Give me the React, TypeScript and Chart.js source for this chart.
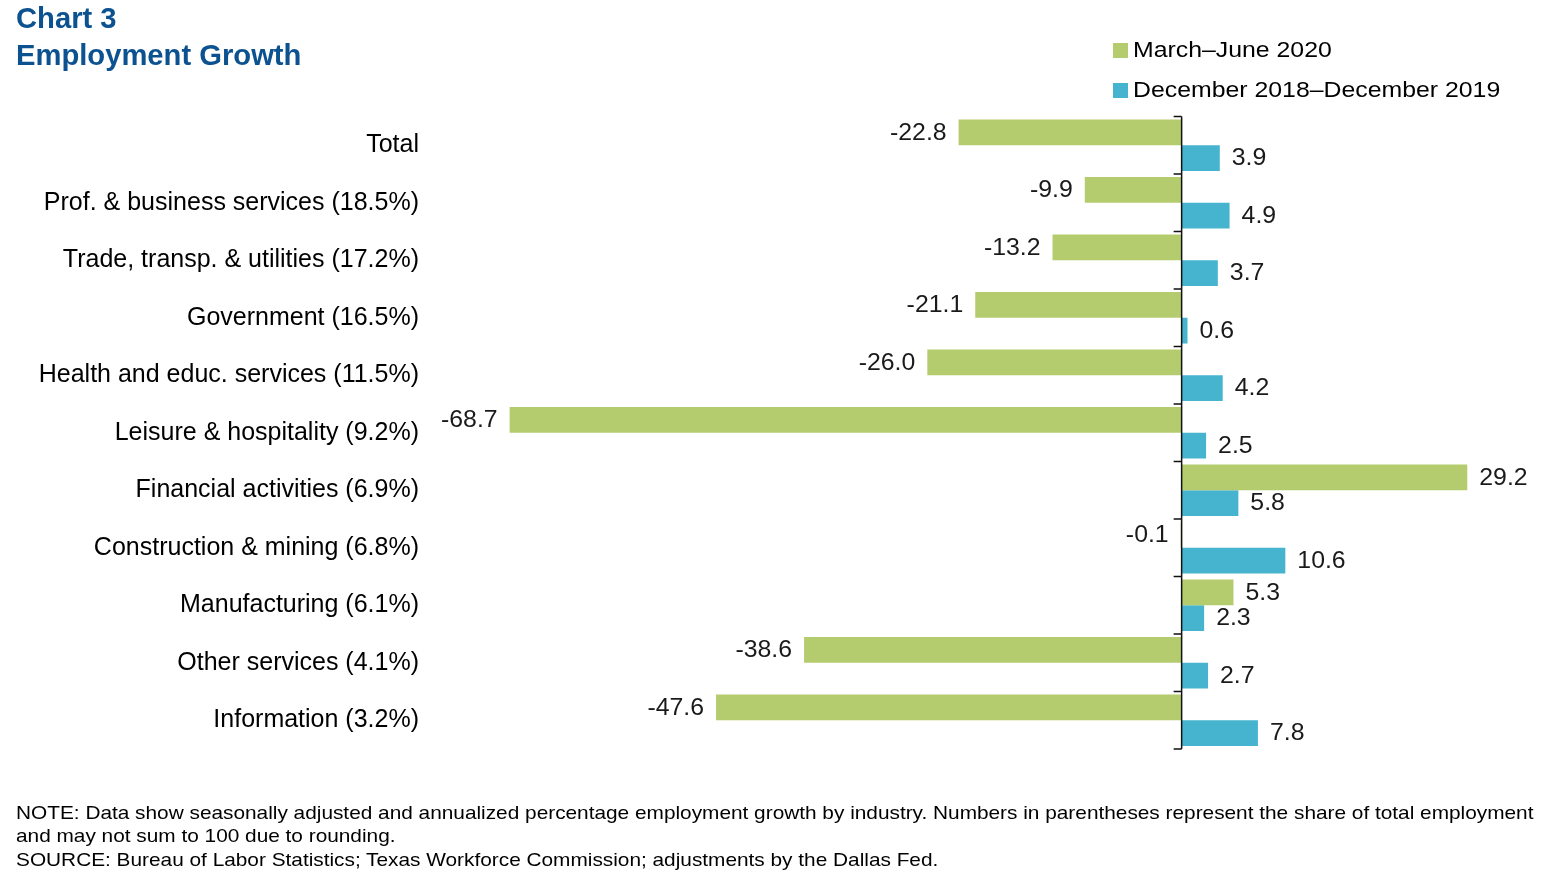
import React, { useEffect, useRef } from 'react';
import { Chart, registerables } from 'chart.js';

Chart.register(...registerables);

const categories = [
  'Total',
  'Prof. & business services (18.5%)',
  'Trade, transp. & utilities (17.2%)',
  'Government (16.5%)',
  'Health and educ. services (11.5%)',
  'Leisure & hospitality (9.2%)',
  'Financial activities (6.9%)',
  'Construction & mining (6.8%)',
  'Manufacturing (6.1%)',
  'Other services (4.1%)',
  'Information (3.2%)',
];
const marchJune2020 = [-22.8, -9.9, -13.2, -21.1, -26.0, -68.7, 29.2, -0.1, 5.3, -38.6, -47.6];
const dec2018Dec2019 = [3.9, 4.9, 3.7, 0.6, 4.2, 2.5, 5.8, 10.6, 2.3, 2.7, 7.8];
const seriesNames = ['March\u2013June 2020', 'December 2018\u2013December 2019'];
const seriesColors = ['#B5CC6E', '#46B4CF'];

const FONT = 'Arial, "Liberation Sans", sans-serif';

export default function App() {
  const ref = useRef<HTMLCanvasElement>(null);

  useEffect(() => {
    if (!ref.current) return;
    const zeroAxisAndLabels = {
      id: 'zeroAxisAndLabels',
      afterDatasetsDraw(chart: any) {
        const { ctx, chartArea, scales } = chart;
        const x = scales.x;
        const y = scales.y;
        const x0 = x.getPixelForValue(0);
        ctx.save();
        ctx.strokeStyle = '#111';
        ctx.lineWidth = 1.5;
        ctx.beginPath();
        ctx.moveTo(x0, chartArea.top);
        ctx.lineTo(x0, chartArea.bottom);
        for (let i = 0; i <= categories.length; i++) {
          const yy = y.getPixelForValue(i - 0.5);
          ctx.moveTo(x0 - 8, yy);
          ctx.lineTo(x0, yy);
        }
        ctx.stroke();

        ctx.font = `23px ${FONT}`;
        ctx.fillStyle = '#1a1a1a';
        ctx.textBaseline = 'middle';
        chart.data.datasets.forEach((ds: any, di: number) => {
          const meta = chart.getDatasetMeta(di);
          meta.data.forEach((bar: any, i: number) => {
            const v = ds.data[i] as number;
            const neg = v < 0;
            ctx.save();
            ctx.translate(bar.x + (neg ? -12 : 12), bar.y + 1);
            ctx.scale(1.08, 1);
            ctx.textAlign = neg ? 'right' : 'left';
            ctx.fillText(v.toFixed(1), 0, 0);
            ctx.restore();
          });
        });
        ctx.restore();
      },
    };

    const chart = new Chart(ref.current, {
      type: 'bar',
      data: {
        labels: categories,
        datasets: [
          {
            label: seriesNames[0],
            data: marchJune2020,
            backgroundColor: seriesColors[0],
            borderWidth: 0,
            categoryPercentage: 0.894,
            barPercentage: 1,
          },
          {
            label: seriesNames[1],
            data: dec2018Dec2019,
            backgroundColor: seriesColors[1],
            borderWidth: 0,
            categoryPercentage: 0.894,
            barPercentage: 1,
          },
        ],
      },
      options: {
        indexAxis: 'y',
        responsive: true,
        maintainAspectRatio: false,
        animation: false,
        layout: { padding: { top: 116.5, bottom: 133, left: 0, right: 32 } },
        plugins: {
          legend: { display: false },
          tooltip: { enabled: false },
        },
        scales: {
          x: { type: 'linear', min: -75, max: 35, display: false },
          y: {
            position: 'left',
            grid: { display: false, drawTicks: false },
            border: { display: false },
            ticks: {
              color: '#000',
              padding: 29,
              font: { family: FONT, size: 25 },
            },
            afterFit(scale: any) {
              scale.width = 448;
            },
          },
        },
      } as any,
      plugins: [zeroAxisAndLabels],
    });
    return () => chart.destroy();
  }, []);

  const legendText: React.CSSProperties = {
    position: 'absolute',
    left: 1133,
    fontFamily: FONT,
    fontSize: 21.5,
    lineHeight: 1,
    color: '#000',
    whiteSpace: 'nowrap',
    transform: 'scaleX(1.155)',
    transformOrigin: 'left center',
  };
  const titleStyle: React.CSSProperties = {
    position: 'absolute',
    left: 16,
    fontFamily: FONT,
    fontWeight: 'bold',
    fontSize: 29.2,
    lineHeight: 1,
    color: '#0C5290',
    whiteSpace: 'nowrap',
  };
  const NOTE_SCALE = 1.125;

  return (
    <div style={{ position: 'fixed', left: 0, top: 0, width: 1556, height: 882, background: '#fff', overflow: 'hidden' }}>
      <div style={{ position: 'absolute', left: 0, top: 0, width: 1556, height: 882 }}>
        <canvas ref={ref} />
      </div>
      <div style={{ ...titleStyle, top: 3.5 }}>Chart 3</div>
      <div style={{ ...titleStyle, top: 40.5 }}>Employment Growth</div>

      <div style={{ position: 'absolute', left: 1113, top: 43, width: 15, height: 15, background: seriesColors[0] }} />
      <div style={{ ...legendText, top: 40 }}>{seriesNames[0]}</div>
      <div style={{ position: 'absolute', left: 1113, top: 83, width: 15, height: 15, background: seriesColors[1] }} />
      <div style={{ ...legendText, top: 80 }}>{seriesNames[1]}</div>

      <div
        style={{
          position: 'absolute',
          left: 16,
          top: 800.5,
          width: 1517 / NOTE_SCALE,
          fontFamily: FONT,
          fontSize: 18.5,
          lineHeight: '23.5px',
          color: '#000',
          transform: `scaleX(${NOTE_SCALE})`,
          transformOrigin: 'left top',
        }}
      >
        <div style={{ textAlign: 'justify', textAlignLast: 'justify', whiteSpace: 'nowrap' }}>
          NOTE: Data show seasonally adjusted and annualized percentage employment growth by industry. Numbers in parentheses represent the share of total employment
        </div>
        <div style={{ whiteSpace: 'nowrap' }}>and may not sum to 100 due to rounding.</div>
        <div style={{ whiteSpace: 'nowrap' }}>SOURCE: Bureau of Labor Statistics; Texas Workforce Commission; adjustments by the Dallas Fed.</div>
      </div>
    </div>
  );
}
